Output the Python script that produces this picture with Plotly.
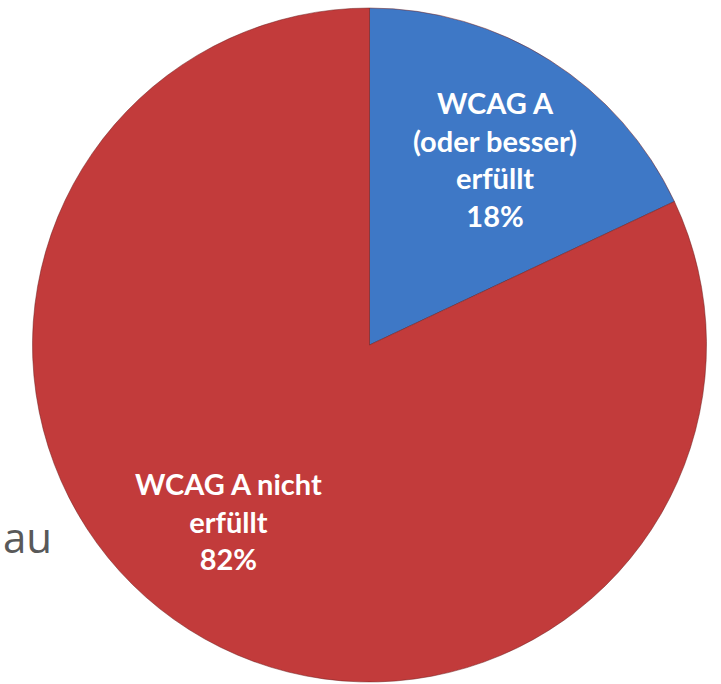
import plotly.graph_objects as go

labels = ["WCAG A<br>(oder besser)<br>erfüllt", "WCAG A nicht<br>erfüllt"]
values = [18, 82]
colors = ["#3E78C6", "#C23B3B"]
label_pos = [(495, 159), (228, 521)]

W, H = 721, 684


def fx(px):
    return px / W


def fy(py):
    return 1 - py / H


fig = go.Figure()
fig.add_trace(go.Pie(
    labels=labels,
    values=values,
    sort=False,
    direction="clockwise",
    rotation=0,
    marker=dict(colors=colors, line=dict(color="rgba(110,30,30,0.5)", width=1)),
    textinfo="none",
    hoverinfo="label+percent",
    showlegend=False,
    domain=dict(x=[fx(31), fx(708)], y=[fy(682), fy(8)]),
))

total = sum(values)
for lab, val, (px, py) in zip(labels, values, label_pos):
    fig.add_annotation(
        x=fx(px), y=fy(py), xref="paper", yref="paper",
        text=f"<b>{lab}<br>{round(100 * val / total)}%</b>",
        showarrow=False, xanchor="center", yanchor="middle",
        font=dict(family="Lato", size=29, color="white"),
    )

fig.add_annotation(
    x=fx(1), y=fy(536), xref="paper", yref="paper",
    text="au", showarrow=False, xanchor="left", yanchor="middle",
    font=dict(family="Open Sans", size=42, color="#595959"),
)

fig.update_layout(
    width=W, height=H,
    margin=dict(l=0, r=0, t=0, b=0),
    paper_bgcolor="white", plot_bgcolor="white",
)

fig.write_html(
    "out.html",
    config={"displayModeBar": False},
    post_script="document.body.style.margin='0';document.body.style.overflow='hidden';",
)
